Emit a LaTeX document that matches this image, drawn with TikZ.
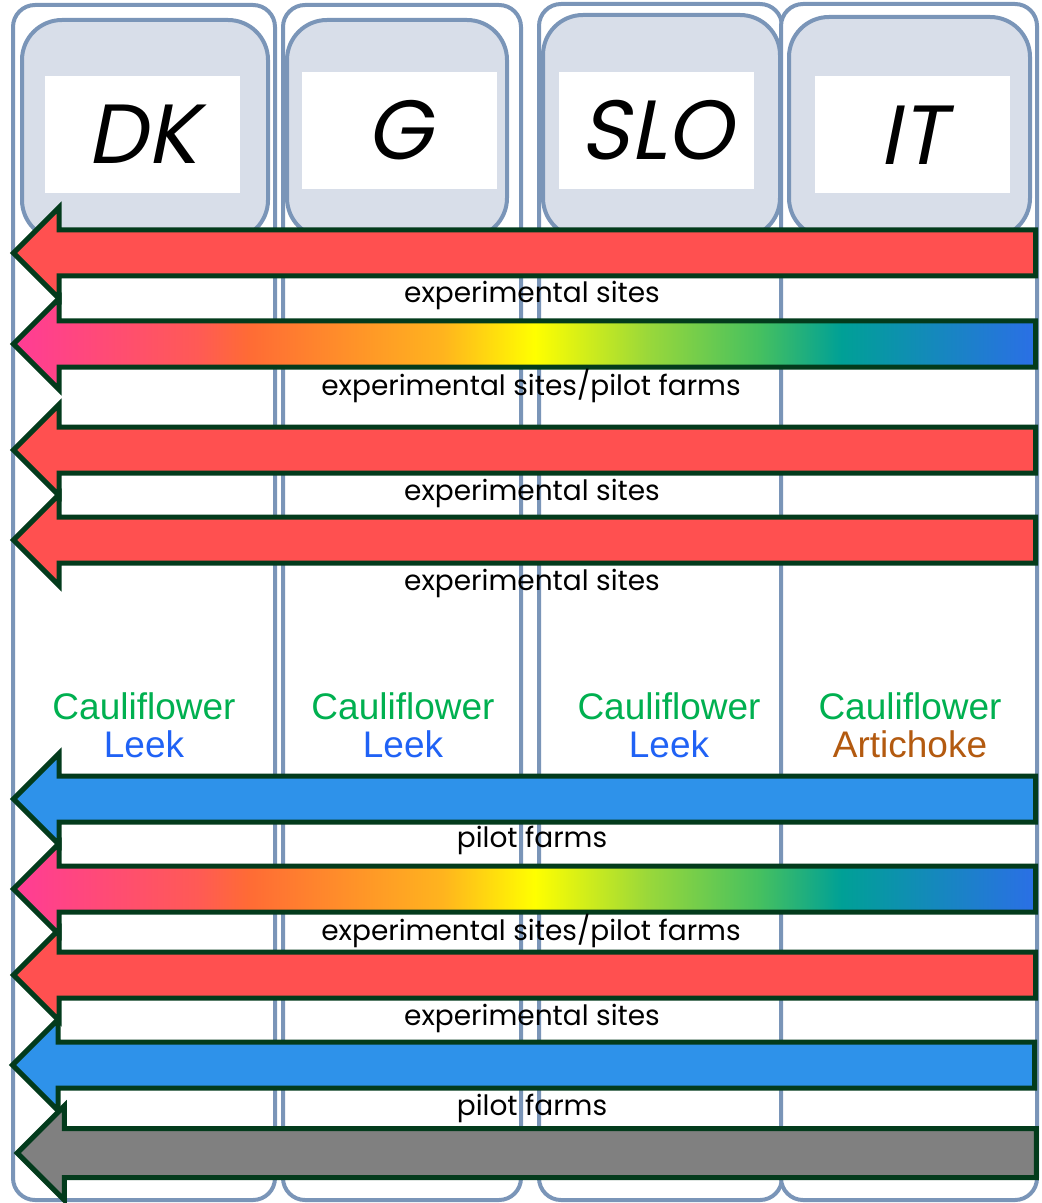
\documentclass[tikz,border=0pt]{standalone}
\usepackage{fontspec}
\usetikzlibrary{shapes.arrows,positioning}

\newfontfamily\tagfont{Poppins}
\newfontfamily\headfont{Poppins}[FakeSlant=0.2]
\newfontfamily\cropfont{Liberation Sans}

\definecolor{frameblue}{HTML}{7A95B8}
\definecolor{headgray}{HTML}{D8DEE9}
\definecolor{flowgreen}{HTML}{033B1C}
\definecolor{flowred}{HTML}{FF5050}
\definecolor{flowblue}{HTML}{2E92EA}
\definecolor{flowgray}{HTML}{808080}
\definecolor{caulgreen}{HTML}{00B050}
\definecolor{leekblue}{HTML}{2062F5}
\definecolor{artibrown}{HTML}{B35A10}
% rainbow for the mixed arrows
\definecolor{rbpink}{HTML}{FF3C96}
\definecolor{rbcoral}{HTML}{FF5A55}
\definecolor{rborange}{HTML}{FF6B35}
\definecolor{rbamber}{HTML}{FFB41E}
\definecolor{rbyellow}{HTML}{FFFF00}
\definecolor{rblime}{HTML}{9AD83A}
\definecolor{rbgreen}{HTML}{45C060}
\definecolor{rbteal}{HTML}{00A096}
\definecolor{rbblue}{HTML}{2B6FE6}
\pgfdeclarehorizontalshading{rainbowflow}{100bp}{color(0bp)=(rbpink); color(25bp)=(rbpink);
  color(34bp)=(rbcoral); color(36.5bp)=(rborange); color(46bp)=(rbamber); color(50.5bp)=(rbyellow);
  color(56bp)=(rblime); color(61.5bp)=(rbgreen); color(65.5bp)=(rbteal); color(75bp)=(rbblue); color(100bp)=(rbblue)}

\begin{document}
\begin{tikzpicture}[x=0.5pt,y=-0.5pt,
    frame/.style={draw=frameblue, line width=2pt, rounded corners=11pt, fill=white},
    head/.style={draw=frameblue, line width=2pt, rounded corners=20pt, fill=headgray},
    namebox/.style={fill=white, minimum width=97.5pt, minimum height=58.5pt, inner sep=0pt,
      font=\headfont\fontsize{42}{42}\selectfont},
    flow/.style={single arrow, shape border rotate=180, draw=flowgreen, line width=2.5pt,
      minimum height=511pt, single arrow head extend=11.25pt, inner xsep=0pt, inner ysep=10.25pt},
    tag/.style={font=\tagfont\fontsize{14}{14}\selectfont},
    crop/.style={align=center, font=\cropfont\fontsize{18.5}{19}\selectfont}]
    \useasboundingbox (0,0) rectangle (1041,1203);

    % Country columns
    \draw[frame] (13,5) rectangle (275,1200);
    \draw[frame] (283,5) rectangle (521,1200);
    \draw[frame] (539,4) rectangle (782,1200);
    \draw[frame] (781,4) rectangle (1037,1200);

    % Column heads
    \draw[head] (22,20) rectangle (268,240);
    \draw[head] (287,20) rectangle (507,238);
    \draw[head] (543,15) rectangle (780,238);
    \draw[head] (789,17) rectangle (1030,238);
    \node[namebox] (dk) at (142.5,134.5) {DK};
    \node[namebox] (g) at (399.5,130.5) {G};
    \node[namebox] (slo) at (656.5,130.5) {SLO};
    \node[namebox] (it) at (912.5,135) {IT};

    % Upper block of arrows
    \node[flow, fill=flowred] (flow1) at (536,253) {};
    \node[flow, shading=rainbowflow] (flow2) at (536,344) {};
    \node[flow, fill=flowred] (flow3) at (536,450) {};
    \node[flow, fill=flowred] (flow4) at (536,540) {};
    \node[tag] (tag1) at (532,295) {experimental sites};
    \node[tag] (tag2) at (531,386) {experimental sites/pilot farms};
    \node[tag] (tag3) at (532,493) {experimental sites};
    \node[tag] (tag4) at (532,583) {experimental sites};

    % Crops per country
    \node[crop] (crop1) at (144,725) {\textcolor{caulgreen}{Cauliflower}\\\textcolor{leekblue}{Leek}};
    \node[crop] (crop2) at (403,725) {\textcolor{caulgreen}{Cauliflower}\\\textcolor{leekblue}{Leek}};
    \node[crop] (crop3) at (669,725) {\textcolor{caulgreen}{Cauliflower}\\\textcolor{leekblue}{Leek}};
    \node[crop] (crop4) at (910,725) {\textcolor{caulgreen}{Cauliflower}\\\textcolor{artibrown}{Artichoke}};

    % Lower block of arrows
    \node[flow, fill=flowblue] (flow5) at (536,799) {};
    \node[flow, shading=rainbowflow] (flow6) at (536,889) {};
    \node[flow, fill=flowred] (flow7) at (536,975) {};
    \node[flow, fill=flowblue] (flow8) at (535,1065) {};
    \node[tag] (tag5) at (532,840) {pilot farms};
    \node[tag] (tag6) at (531,931) {experimental sites/pilot farms};
    \node[tag] (tag7) at (532,1018) {experimental sites};
    \node[tag] (tag8) at (532,1108) {pilot farms};
    \node[flow, fill=flowgray, minimum height=509.5pt, inner ysep=11pt] (flow9) at (539,1153) {};
\end{tikzpicture}
\end{document}
